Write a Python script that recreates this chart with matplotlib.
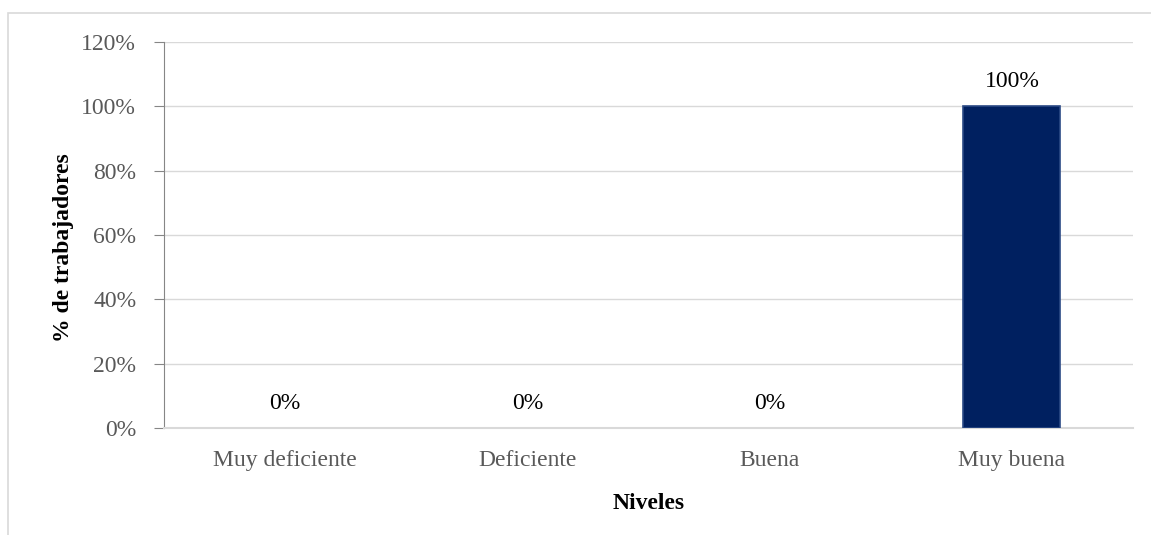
import matplotlib
matplotlib.use("Agg")
import matplotlib.pyplot as plt
from matplotlib.patches import Rectangle
from matplotlib.ticker import FuncFormatter, MultipleLocator

categories = ["Muy deficiente", "Deficiente", "Buena", "Muy buena"]
values = [0, 0, 0, 100]
value_labels = ["0%", "0%", "0%", "100%"]

plt.rcParams["font.family"] = ["Liberation Serif", "DejaVu Serif"]

fig = plt.figure(figsize=(11.51, 5.35), dpi=100)
ax = fig.add_axes([164 / 1151, 1 - 428 / 535, (1133 - 164) / 1151, (428 - 42) / 535])

# chart frame
fig.patches.append(Rectangle((8 / 1151, -0.2), 1.2, 1.2 - 13 / 535, transform=fig.transFigure,
                             fill=False, edgecolor="#d9d9d9", linewidth=1.2))

x = range(len(categories))
widths = [1.2 if v > 0 else 0 for v in values]
ax.bar(x, values, width=0.4, color="#002060", edgecolor="#2b4a85", linewidth=widths, zorder=3)

for xi, v, lab in zip(x, values, value_labels):
    ax.text(xi, v + 4.5, lab, ha="center", va="bottom", fontsize=17, color="black", zorder=4)

ax.set_xlim(-0.5, 3.5)
ax.set_ylim(0, 120)
ax.yaxis.set_major_locator(MultipleLocator(20))
ax.yaxis.set_major_formatter(FuncFormatter(lambda v, p: f"{int(v)}%"))
ax.set_xticks(list(x))
ax.set_xticklabels(categories)

ax.grid(axis="y", color="#d9d9d9", linewidth=1.0, zorder=0)
ax.set_axisbelow(True)
for s in ["top", "right"]:
    ax.spines[s].set_visible(False)
ax.spines["left"].set_color("#868686")
ax.spines["bottom"].set_color("#d9d9d9")
ax.spines["bottom"].set_linewidth(1.5)

ax.tick_params(axis="y", colors="#868686", labelcolor="#595959", labelsize=17,
               length=7, direction="out", pad=13)
ax.tick_params(axis="x", length=0, labelcolor="#595959", labelsize=17, pad=16)

ax.set_ylabel("% de trabajadores", fontsize=17, fontweight="bold")
ax.yaxis.set_label_coords(-0.0926, 0.466)
ax.set_xlabel("Niveles", fontsize=17, fontweight="bold", labelpad=16)

fig.savefig("out.png", dpi=100)
